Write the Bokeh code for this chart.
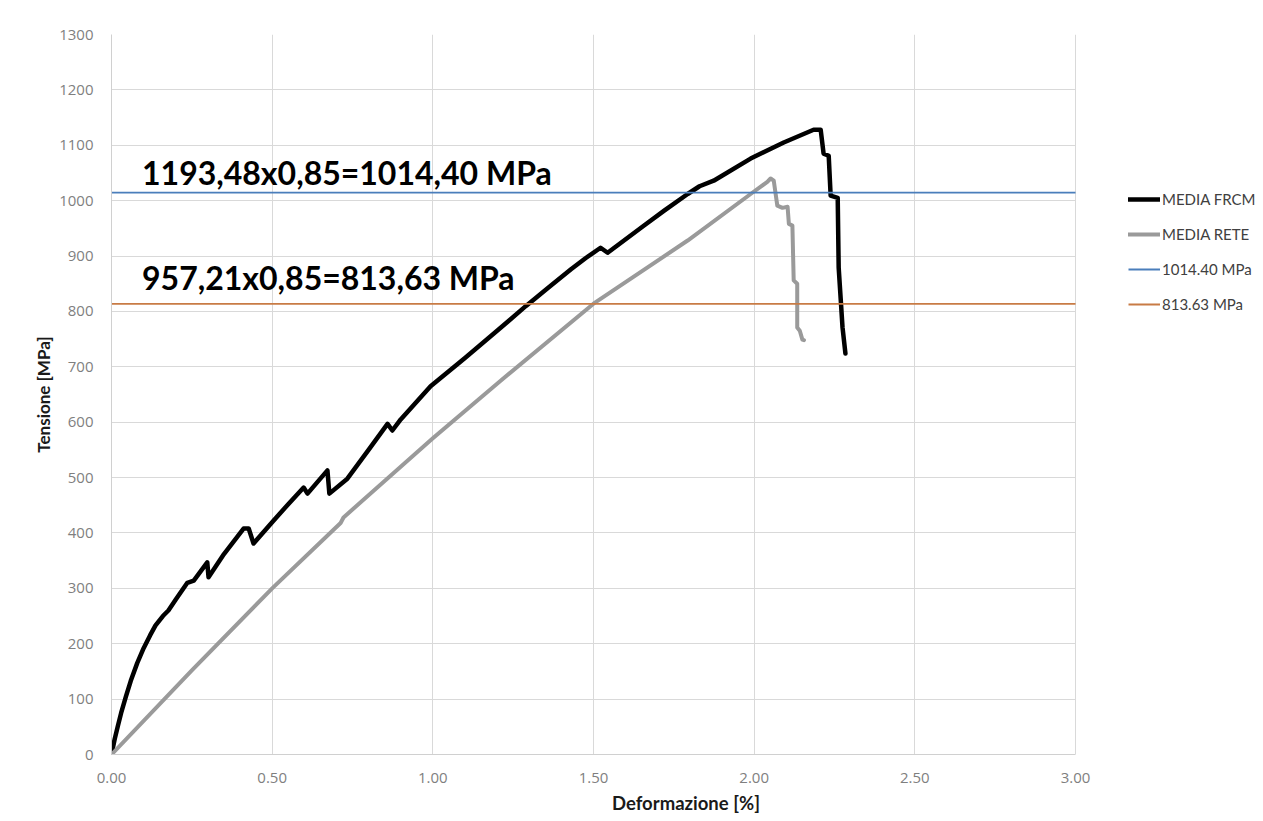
from bokeh.plotting import figure
from bokeh.models import Legend, LegendItem, FixedTicker, NumeralTickFormatter, Range1d
from bokeh.core.properties import value
from bokeh.embed import file_html
from bokeh.resources import INLINE

# ---- data ----
frcm_x = [0, 0.01, 0.02, 0.03, 0.045, 0.06, 0.08, 0.10, 0.12, 0.137, 0.16, 0.177, 0.20, 0.236,
          0.256, 0.298, 0.302, 0.35, 0.411, 0.427, 0.442, 0.504, 0.55, 0.598, 0.61, 0.672, 0.678,
          0.734, 0.80, 0.859, 0.874, 0.90, 0.993, 1.10, 1.20, 1.29, 1.36, 1.43, 1.475, 1.522,
          1.544, 1.65, 1.72, 1.793, 1.83, 1.874, 1.989, 2.092, 2.185, 2.207, 2.216, 2.232,
          2.238, 2.26, 2.263, 2.275, 2.284]
frcm_y = [0, 28, 52, 75, 105, 133, 165, 192, 215, 233, 250, 260, 280, 310,
          314, 347, 320, 362, 408, 408, 381, 422, 452, 482, 471, 513, 471,
          498, 550, 597, 585, 605, 665, 716, 765, 810, 843, 876, 896, 915,
          906, 952, 982, 1012, 1026, 1036, 1076, 1105, 1128, 1128, 1085, 1081,
          1009, 1005, 879, 771, 724]

rete_x = [0, 0.25, 0.50, 0.713, 0.722, 1.00, 1.211, 1.50, 1.793, 1.989, 2.041, 2.051,
          2.061, 2.072, 2.088, 2.104, 2.108, 2.119, 2.123, 2.134, 2.134, 2.142, 2.15, 2.155]
rete_y = [0, 152, 300, 418, 428, 571, 675, 814, 928, 1012, 1034, 1040,
          1036, 991, 987, 989, 958, 955, 856, 850, 771, 765, 749, 748]

x_limits = [0, 3]
threshold_values = [1014.40, 813.63]
threshold_labels = ["1014.40 MPa", "813.63 MPa"]
series_labels = ["MEDIA FRCM", "MEDIA RETE"]
annotations = ["1193,48x0,85=1014,40 MPa", "957,21x0,85=813,63 MPa"]
annotation_x = [0.095, 0.095]
annotation_y = [1050, 861]
x_ticks = [0, 0.5, 1.0, 1.5, 2.0, 2.5, 3.0]
y_ticks = list(range(0, 1301, 100))

# plot area spans 0..3 over 964 px; the frame continues to the right to hold the legend
FRAME_LEFT, AXIS_RIGHT, FIG_W = 111, 1075, 1260
x_end = x_limits[1] * (FIG_W - FRAME_LEFT) / (AXIS_RIGHT - FRAME_LEFT)

p = figure(width=FIG_W, height=818, output_backend="svg", toolbar_location=None,
           x_range=Range1d(0, x_end), y_range=Range1d(0, 1300),
           min_border_left=FRAME_LEFT, min_border_right=0, min_border_top=34, min_border_bottom=64)
p.outline_line_color = None
p.background_fill_color = "white"
p.border_fill_color = "white"

for g in (p.xgrid, p.ygrid):
    g.grid_line_color = "#D9D9D9"
    g.grid_line_width = 1
p.xaxis.ticker = FixedTicker(ticks=x_ticks)
p.yaxis.ticker = FixedTicker(ticks=y_ticks)
p.xaxis.bounds = (x_limits[0], x_limits[1])
yg = p.ygrid[0]
if "cross_bounds" in yg.properties():
    yg.cross_bounds = (x_limits[0], x_limits[1])
else:
    yg.grid_line_color = None
    p.segment(x0=[x_limits[0]] * len(y_ticks), x1=[x_limits[1]] * len(y_ticks),
              y0=y_ticks, y1=y_ticks, line_color="#D9D9D9", line_width=1)
p.xaxis.formatter = NumeralTickFormatter(format="0.00")
for ax in (p.xaxis, p.yaxis):
    ax.axis_line_color = "#D0D0D0"
    ax.major_tick_line_color = None
    ax.minor_tick_line_color = None
    ax.major_tick_out = 0
    ax.major_label_text_font = "Open Sans"
    ax.major_label_text_font_size = "15px"
    ax.major_label_text_color = "#7F7F7F"
    ax.axis_label_text_font = "Lato"
    ax.axis_label_text_font_style = "bold"
    ax.axis_label_text_color = "#1a1a1a"
p.xaxis.axis_label_text_font_size = "18.5px"
p.yaxis.axis_label_text_font_size = "17px"
p.xaxis.major_label_standoff = 18
p.yaxis.major_label_standoff = 18
p.xaxis.axis_label = "Deformazione [%]"
p.yaxis.axis_label = "Tensione [MPa]"
p.xaxis.axis_label_standoff = 6
p.yaxis.axis_label_standoff = 2

r1 = p.line(frcm_x, frcm_y, line_color="black", line_width=4.5, line_join="round", line_cap="round")
r2 = p.line(rete_x, rete_y, line_color="#9A9A9A", line_width=4, line_join="round", line_cap="round")
r3 = p.line(x_limits, [threshold_values[0]] * 2, line_color="#4A7EBB", line_width=1.8)
r4 = p.line(x_limits, [threshold_values[1]] * 2, line_color="#C87B45", line_width=1.8)

p.text(x=annotation_x, y=annotation_y, text=annotations, text_font=value("Lato"),
       text_font_style="bold", text_font_size="32px", text_color="black",
       text_baseline="alphabetic", text_align="left")

legend = Legend(items=[LegendItem(label=series_labels[0], renderers=[r1]),
                       LegendItem(label=series_labels[1], renderers=[r2]),
                       LegendItem(label=threshold_labels[0], renderers=[r3]),
                       LegendItem(label=threshold_labels[1], renderers=[r4])],
                location=(1017, 440), padding=0, margin=0, spacing=15,
                glyph_width=32, glyph_height=20, label_height=20, label_standoff=2,
                label_text_font="Lato", label_text_font_size="15px", label_text_color="#404040",
                border_line_alpha=0, background_fill_alpha=0)
p.add_layout(legend, "center")

open("out.html", "w").write(file_html(p, INLINE))
